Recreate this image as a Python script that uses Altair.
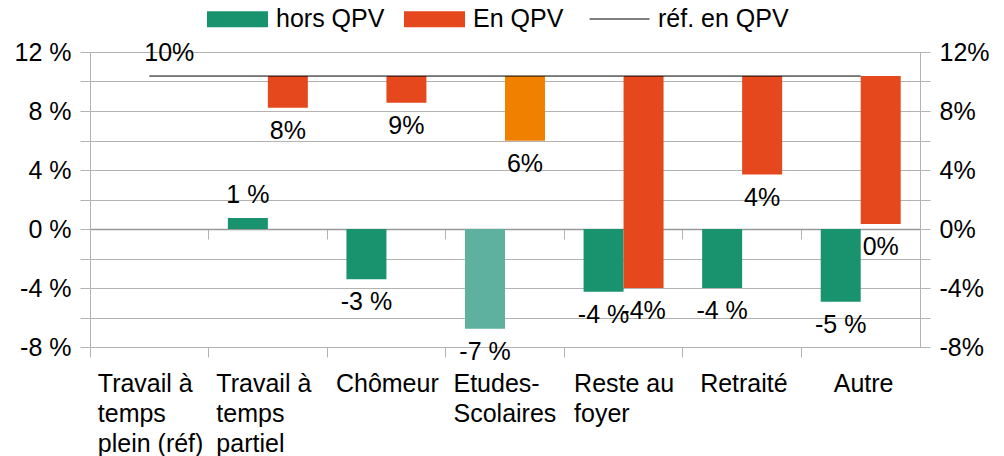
import altair as alt
import pandas as pd

# ---- data ----
categories = ["Travail à\ntemps\nplein (réf)", "Travail à\ntemps\npartiel", "Chômeur",
              "Etudes-\nScolaires", "Reste au\nfoyer", "Retraité", "Autre"]
hors_qpv = [0.0, 0.75, -3.4, -6.76, -4.25, -4.0, -4.93]
en_qpv = [10.37, 8.22, 8.56, 5.99, -4.0, 3.69, 0.34]
ref_en_qpv = 10.37
light_shade = [False, False, False, True, False, False, False]

series = ["hors QPV", "En QPV"]
keys = ["hors QPV", "En QPV", "hors QPV (clair)", "En QPV (clair)"]
colors = ["#18936e", "#e5481d", "#5eb09f", "#f08000"]
FONT = "Liberation Sans"
FS = 25

rows = []
for i, c in enumerate(categories):
    for s, start, end in (("hors QPV", 0.0, hors_qpv[i]), ("En QPV", ref_en_qpv, en_qpv[i])):
        key = s + (" (clair)" if light_shade[i] else "")
        txt = f"{end:.0f} %" if s == "hors QPV" else f"{end:.0f}%"
        show = not (s == "hors QPV" and end == 0)
        rows.append(dict(cat=c, serie=s, start=start, end=end, key=key, txt=txt,
                         pos="above" if end >= start else "below", show=show))
df = pd.DataFrame(rows)
df_lab = df[df["show"]]
df_line = pd.DataFrame({"cat": categories, "ref": [ref_en_qpv] * len(categories),
                        "lname": ["réf. en QPV"] * len(categories)})

xscale = alt.Scale(domain=categories, paddingInner=0, paddingOuter=0)
xoffscale = alt.Scale(domain=series, paddingInner=0, paddingOuter=0.4825)
yscale = alt.Scale(domain=[-8, 12], nice=False, zero=False)
yvals = list(range(-8, 13, 2))
GRID = "#b3b3b3"

# multi-line category labels: lines left-aligned, block centred under the category
label_offset = {
    "condition": [
        {"test": "datum.value == 'Chômeur'", "value": -50.5},
        {"test": "indexof(datum.value, 'Reste') == 0", "value": -49.5},
        {"test": "datum.value == 'Retraité'", "value": -42},
        {"test": "datum.value == 'Autre'", "value": -27},
    ],
    "value": -51.5,
}

x_bottom_axis = alt.Axis(orient="bottom", bandPosition=0, tickSize=10, tickColor=GRID,
                         domain=False, grid=False, labelExpr="split(datum.label, '\\n')",
                         labelAlign="left", labelBaseline="top", labelOffset=label_offset,
                         labelPadding=14, labelLineHeight=30, labelAngle=0, labelOverlap=False,
                         labelLimit=300, title=None, labelFontSize=FS, labelFont=FONT,
                         labelColor="black")
x_zero_axis = alt.Axis(orient="bottom", offset=-118, bandPosition=0, tickSize=10,
                       tickColor=GRID, domainColor="#999999", domainWidth=1.5,
                       labels=False, grid=False, title=None)
y_left_axis = alt.Axis(orient="left", values=yvals,
                       labelExpr="datum.value % 4 == 0 ? datum.value + ' %' : ''",
                       grid=True, gridColor=GRID, domainColor=GRID, tickColor=GRID,
                       tickSize=10, labelPadding=9, title=None, labelFontSize=FS,
                       labelFont=FONT, labelColor="black")
y_right_axis = alt.Axis(orient="right", values=yvals,
                        labelExpr="datum.value % 4 == 0 ? datum.value + '%' : ''",
                        grid=False, domainColor=GRID, tickColor=GRID,
                        tickSize=10, labelPadding=9, title=None, labelFontSize=FS,
                        labelFont=FONT, labelColor="black")

bars = alt.Chart(df).mark_bar().encode(
    x=alt.X("cat:N", sort=categories, scale=xscale, axis=x_bottom_axis),
    xOffset=alt.XOffset("serie:N", sort=series, scale=xoffscale),
    y=alt.Y("start:Q", scale=yscale, axis=y_left_axis),
    y2="end:Q",
    color=alt.Color("key:N", scale=alt.Scale(domain=keys, range=colors),
                    legend=alt.Legend(values=series, orient="none", legendX=117, legendY=-63.5,
                                      direction="horizontal", title=None,
                                      symbolType="M-1,-0.2623H1V0.2623H-1Z", symbolSize=3721,
                                      symbolStrokeWidth=0, labelOffset=8, columnPadding=19,
                                      labelFontSize=FS, labelFont=FONT, labelColor="black")),
)

def labels(pos, dy):
    return alt.Chart(df_lab).transform_filter(alt.datum.pos == pos).mark_text(
        dy=dy, fontSize=FS, font=FONT, color="black", baseline="middle", align="center"
    ).encode(
        x=alt.X("cat:N", sort=categories, scale=xscale, axis=None),
        xOffset=alt.XOffset("serie:N", sort=series, scale=xoffscale),
        y=alt.Y("end:Q", scale=yscale, axis=None),
        text="txt:N",
    )

line = alt.Chart(df_line).mark_line(strokeWidth=1).encode(
    x=alt.X("cat:N", sort=categories, scale=xscale, axis=x_zero_axis),
    y=alt.Y("ref:Q", scale=yscale, axis=y_right_axis),
    color=alt.Color("lname:N", scale=alt.Scale(domain=["réf. en QPV"], range=["black"]),
                    legend=alt.Legend(orient="none", legendX=499, legendY=-63.5,
                                      direction="horizontal", title=None,
                                      symbolType="stroke", symbolSize=3600,
                                      symbolStrokeWidth=1, labelOffset=8,
                                      labelFontSize=FS, labelFont=FONT, labelColor="black")),
)

chart = alt.layer(bars, labels("above", -23), labels("below", 23), line).resolve_scale(
    color="independent"
).resolve_axis(x="independent", y="independent").properties(
    width=830, height=295,
    autosize=alt.AutoSizeParams(type="none"),
    padding={"left": 82, "top": 44, "right": 76, "bottom": 109},
).configure_view(stroke=None).configure(font=FONT)

chart.save("out.html", embed_options={"renderer": "svg", "actions": False})
